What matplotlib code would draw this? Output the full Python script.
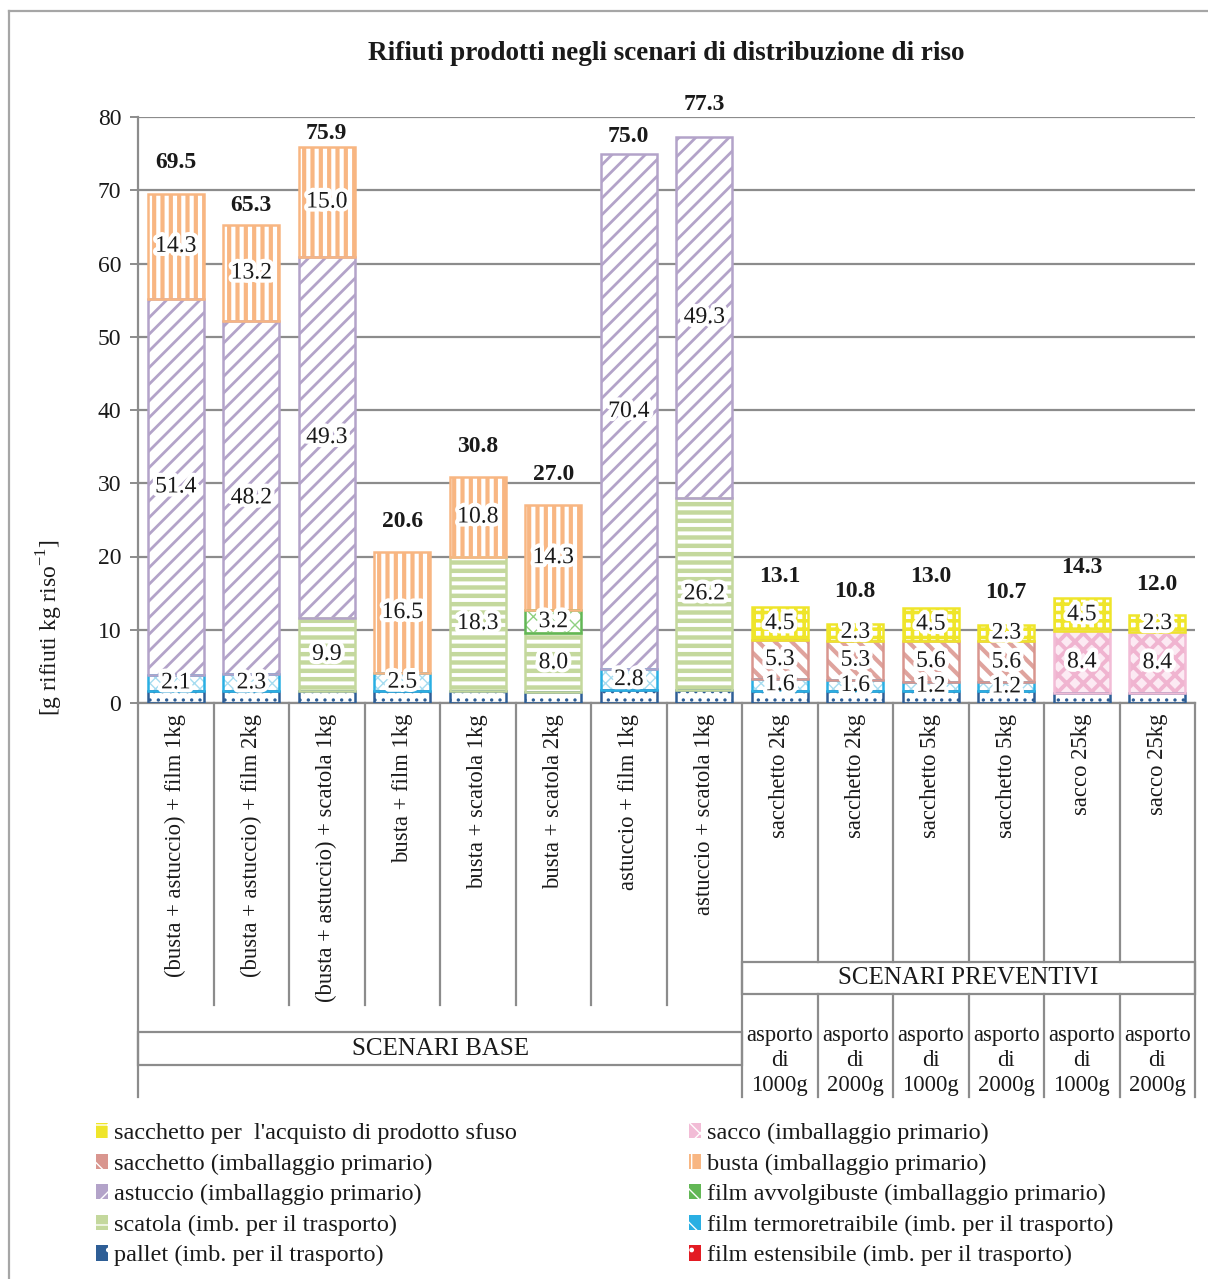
import matplotlib
matplotlib.use("Agg")
import matplotlib.pyplot as plt
import matplotlib.patheffects as pe
from matplotlib.patches import Patch, Rectangle
from matplotlib.lines import Line2D
import numpy as np

plt.rcParams['font.family'] = ['Liberation Serif', 'DejaVu Serif']
plt.rcParams['mathtext.fontset'] = 'custom'
plt.rcParams['mathtext.rm'] = 'Liberation Serif'

# scenari: 8 base + 6 preventivi
categorie = [
    "(busta + astuccio) + film 1kg", "(busta + astuccio) + film 2kg",
    "(busta + astuccio) + scatola 1kg", "busta + film 1kg",
    "busta + scatola 1kg", "busta + scatola 2kg",
    "astuccio + film 1kg", "astuccio + scatola 1kg",
    "sacchetto 2kg", "sacchetto 2kg", "sacchetto 5kg", "sacchetto 5kg",
    "sacco 25kg", "sacco 25kg",
]
asporto = ["asporto\ndi\n1000g", "asporto\ndi\n2000g"] * 3
totali = [69.5, 65.3, 75.9, 20.6, 30.8, 27.0, 75.0, 77.3, 13.1, 10.8, 13.0, 10.7, 14.3, 12.0]

# componenti (g rifiuti / kg riso), dal basso verso l'alto
pallet = [1.7, 1.6, 1.7, 1.6, 1.7, 1.5, 1.8, 1.8, 1.7, 1.6, 1.7, 1.6, 1.4, 1.3]
film_estensibile = [0] * 14
film_termo = [2.1, 2.3, 0, 2.5, 0, 0, 2.8, 0, 1.6, 1.6, 1.2, 1.2, 0, 0]
scatola = [0, 0, 9.9, 0, 18.3, 8.0, 0, 26.2, 0, 0, 0, 0, 0, 0]
film_avvolgibuste = [0, 0, 0, 0, 0, 3.2, 0, 0, 0, 0, 0, 0, 0, 0]
astuccio = [51.4, 48.2, 49.3, 0, 0, 0, 70.4, 49.3, 0, 0, 0, 0, 0, 0]
busta = [14.3, 13.2, 15.0, 16.5, 10.8, 14.3, 0, 0, 0, 0, 0, 0, 0, 0]
sacchetto = [0, 0, 0, 0, 0, 0, 0, 0, 5.3, 5.3, 5.6, 5.6, 0, 0]
sacco = [0] * 12 + [8.4, 8.4]
sacchetto_sfuso = [0] * 8 + [4.5, 2.3, 4.5, 2.3, 4.5, 2.3]

# (nome, valori, bordo, colore tratteggio, fondo, tratteggio, spessore tratteggio, etichetta)
serie = [
    ("pallet (imb. per il trasporto)", pallet, '#2E5E96', '#2E5E96', 'white', '..', 1.2, False),
    ("film estensibile (imb. per il trasporto)", film_estensibile, '#E31B23', '#E31B23', 'white', '..', 1.2, True),
    ("film termoretraibile (imb. per il trasporto)", film_termo, '#2AAFE3', '#A6DCF0', 'white', 'xxx', 1.0, True),
    ("scatola (imb. per il trasporto)", scatola, '#C4D89D', '#C4D89D', 'white', '--', 3.2, True),
    ("film avvolgibuste (imballaggio primario)", film_avvolgibuste, '#62B755', '#8FD081', 'white', 'xx', 1.0, True),
    ("astuccio (imballaggio primario)", astuccio, '#B3A3C9', '#B3A3C9', 'white', '//', 2.0, True),
    ("busta (imballaggio primario)", busta, '#F8B682', '#F8B682', 'white', '||', 3.0, True),
    ("sacchetto (imballaggio primario)", sacchetto, '#D9968F', '#DFA39D', 'white', '\\\\', 3.0, True),
    ("sacco (imballaggio primario)", sacco, '#F2BCD6', '#F0B4D0', '#FCEAF3', 'xx', 2.8, True),
    ("sacchetto per  l'acquisto di prodotto sfuso", sacchetto_sfuso, '#EFE52A', '#EFE52A', 'white', '++', 2.6, True),
]

# distanza (px) tra cima della barra e centro del totale
scarto_totale = [31, 19, 14, 31, 31, 31, 17, 32, 31, 32, 31, 32, 31, 31]

fig = plt.figure(figsize=(12.08, 12.79), dpi=100)
ax = fig.add_axes([138 / 1208, 1 - 703 / 1279, (1195 - 138) / 1208, (703 - 117) / 1279])

x = np.arange(len(categorie))
larghezza = 0.74
base = np.zeros(len(categorie))
alone = [pe.withStroke(linewidth=6, foreground='white')]
testo = '#1a1a1a'


def barre_tratteggiate(xs, h, b, bordo, col_tr, fondo, tratt, lw_tr):
    with plt.rc_context({'hatch.linewidth': lw_tr}):
        strato = ax.bar(xs, h, larghezza, bottom=b, color=fondo, edgecolor=col_tr,
                        linewidth=0, hatch=tratt, zorder=2)
    for p in strato:
        if hasattr(p, 'set_hatch_linewidth'):
            p.set_hatch_linewidth(lw_tr)
    ax.bar(xs, h, larghezza, bottom=b, fill=False, edgecolor=bordo, linewidth=1.8, zorder=3)


maniglie = {}
for nome, valori, bordo, col_tr, fondo, tratt, lw_tr, etichetta in serie:
    v = np.array(valori, dtype=float)
    m = v > 0
    if m.any():
        barre_tratteggiate(x[m], v[m], base[m], bordo, col_tr, fondo, tratt, lw_tr)
        if etichetta:
            for xi, vi, bi in zip(x[m], v[m], base[m]):
                ax.text(xi, bi + vi / 2, f"{vi:.1f}", ha='center', va='center',
                        fontsize=17, color=testo, zorder=5, path_effects=alone)
    # quadratino pieno con un segno bianco
    with plt.rc_context({'hatch.linewidth': 1.5}):
        maniglie[nome] = Patch(facecolor=bordo, edgecolor='white', hatch=tratt[0], linewidth=0)
    base = base + v

for xi, top, tot, dpx in zip(x, base, totali, scarto_totale):
    ax.annotate(f"{tot:.1f}", (xi, top), xytext=(0, dpx * 0.72), textcoords='offset points',
                ha='center', va='center', fontsize=17, fontweight='bold', color=testo)

grigio = '#8C8C8C'
ax.set_xlim(-0.5, 13.5)
ax.set_ylim(0, 80)
ax.set_yticks(np.arange(0, 81, 10))
ax.yaxis.grid(True, color=grigio, linewidth=1.6, zorder=0)
ax.set_axisbelow(True)
ax.tick_params(axis='y', labelsize=17, length=6, width=1.4, color=grigio, pad=6,
               labelcolor=testo)
ax.set_xticks([])
for s in ['top', 'right']:
    ax.spines[s].set_visible(False)
for s in ['left', 'bottom']:
    ax.spines[s].set_color(grigio)
    ax.spines[s].set_linewidth(1.6)


# asse delle categorie a due livelli
def py(px):
    return (703 - px) / 7.325


def linea(x0, x1, y0, y1):
    ax.add_line(Line2D([x0, x1], [y0, y1], color=grigio, linewidth=1.6, clip_on=False))


fondo_asse = py(1097)
linea(-0.5, -0.5, 0, fondo_asse)
linea(7.5, 7.5, 0, fondo_asse)
linea(13.5, 13.5, 0, fondo_asse)
for i in range(7):
    linea(i + 0.5, i + 0.5, 0, py(1005))
for i in range(8, 13):
    linea(i + 0.5, i + 0.5, 0, py(962))
    linea(i + 0.5, i + 0.5, py(994), fondo_asse)
ax.add_patch(Rectangle((-0.5, py(1065)), 8, py(1032) - py(1065), fill=False,
                       edgecolor=grigio, linewidth=1.6, clip_on=False))
ax.add_patch(Rectangle((7.5, py(994)), 6, py(962) - py(994), fill=False,
                       edgecolor=grigio, linewidth=1.6, clip_on=False))

for xi, c in zip(x, categorie):
    ax.text(xi, py(714), c, rotation=90, ha='center', va='top', fontsize=16.3,
            color=testo, clip_on=False)
for xi, a in zip(x[8:], asporto):
    ax.text(xi, py(1060), a, ha='center', va='center', fontsize=16.3, color=testo,
            linespacing=1.25, clip_on=False)
ax.text(3.5, py(1049), "SCENARI BASE", ha='center', va='center', fontsize=18,
        color=testo, clip_on=False)
ax.text(10.5, py(978), "SCENARI PREVENTIVI", ha='center', va='center', fontsize=18,
        color=testo, clip_on=False)

fig.text(666 / 1208, 1 - 53 / 1279, "Rifiuti prodotti negli scenari di distribuzione di riso",
         ha='center', va='center', fontsize=19.5, fontweight='bold', color=testo)
fig.text(50 / 1208, 1 - 628 / 1279, "[g rifiuti kg riso$^{-1}$]", rotation=90,
         ha='center', va='center', fontsize=17, color=testo)

# bordo esterno
fig.add_artist(Line2D([9 / 1208, 9 / 1208], [0, 1 - 11 / 1279], transform=fig.transFigure,
                      color='#A6A6A6', linewidth=1.6))
fig.add_artist(Line2D([9 / 1208, 1], [1 - 11 / 1279, 1 - 11 / 1279], transform=fig.transFigure,
                      color='#A6A6A6', linewidth=1.6))

ordine_sx = ["sacchetto per  l'acquisto di prodotto sfuso", "sacchetto (imballaggio primario)",
             "astuccio (imballaggio primario)", "scatola (imb. per il trasporto)",
             "pallet (imb. per il trasporto)"]
ordine_dx = ["sacco (imballaggio primario)", "busta (imballaggio primario)",
             "film avvolgibuste (imballaggio primario)",
             "film termoretraibile (imb. per il trasporto)",
             "film estensibile (imb. per il trasporto)"]
for ordine, x0 in [(ordine_sx, 96), (ordine_dx, 689)]:
    fig.legend([maniglie[n] for n in ordine], ordine, loc='upper left',
               bbox_to_anchor=(x0 / 1208, 1 - 1123 / 1279), frameon=False, fontsize=17.5,
               handlelength=0.5, handleheight=0.6, handletextpad=0.25,
               labelspacing=0.38, borderpad=0, borderaxespad=0, labelcolor=testo)

fig.savefig("out.png", dpi=100)
